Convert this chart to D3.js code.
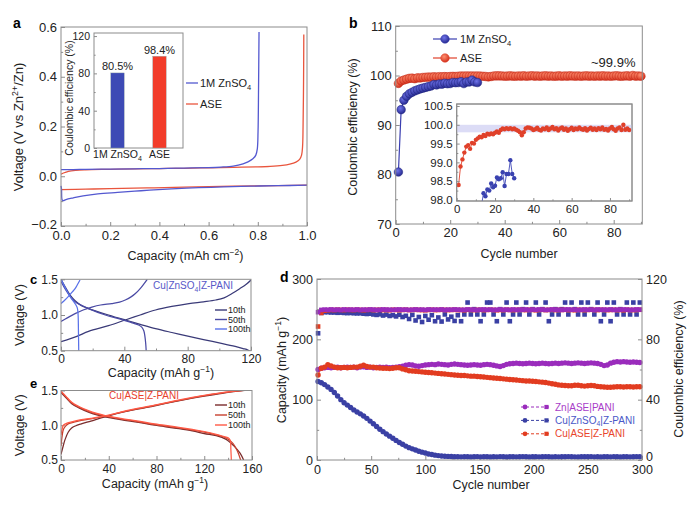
<!DOCTYPE html>
<html><head><meta charset="utf-8">
<script src="https://cdn.jsdelivr.net/npm/d3@7/dist/d3.min.js"></script>
<style>html,body{margin:0;padding:0;background:#fff;}svg{display:block;}</style>
</head><body>
<svg id="fig" width="694" height="506"></svg>
<script>
// ================= DATA =================
// Panel a: voltage profiles, [capacity (mAh cm-2), voltage (V)]
const aBlueStrip = [[0,0.027],[0.05,0.027],[0.1,0.028],[0.2,0.029],[0.3,0.03],[0.4,0.031],[0.5,0.033],[0.6,0.035],[0.65,0.037],[0.7,0.041],[0.74,0.05],[0.76,0.058],[0.78,0.07],[0.792,0.085],[0.798,0.11],[0.801,0.18],[0.803,0.35],[0.805,0.58]];
const aBluePlate = [[0,-0.039],[0.002,-0.05],[0.005,-0.096],[0.01,-0.098],[0.02,-0.094],[0.05,-0.087],[0.09,-0.079],[0.15,-0.071],[0.23,-0.065],[0.3,-0.06],[0.36,-0.056],[0.45,-0.051],[0.56,-0.046],[0.66,-0.043],[0.77,-0.04],[0.88,-0.038],[1.0,-0.036]];
const aRedStrip = [[0,0.008],[0.01,0.013],[0.03,0.02],[0.06,0.024],[0.1,0.026],[0.2,0.028],[0.3,0.03],[0.4,0.031],[0.5,0.032],[0.6,0.034],[0.7,0.036],[0.8,0.038],[0.85,0.04],[0.9,0.044],[0.93,0.049],[0.955,0.057],[0.97,0.068],[0.978,0.085],[0.982,0.12],[0.984,0.2],[0.986,0.38],[0.987,0.57]];
const aRedPlate = [[0,-0.054],[0.1,-0.052],[0.2,-0.05],[0.35,-0.047],[0.5,-0.044],[0.65,-0.041],[0.8,-0.039],[1.0,-0.036]];
const aInsetCats = ["1M ZnSO4", "ASE"];
const aInsetVals = [80.5, 98.4];
const aInsetLabels = ["80.5%", "98.4%"];

// Panel b: coulombic efficiency (%) per cycle, starting at cycle 1
const bBlueCE = [80.5,93.1,95.0,95.8,96.3,96.6,96.9,97.1,97.3,97.45,
 97.6,97.75,97.88,98.18,98.10,98.28,98.25,98.44,98.34,98.38,
 98.60,98.55,98.58,98.74,98.37,98.69,98.69,99.06,98.69,98.58];
const bRedCE = [98.40,98.89,99.08,99.26,99.42,99.46,99.36,99.52,99.50,99.60,
 99.64,99.68,99.67,99.73,99.70,99.76,99.74,99.77,99.75,99.79,
 99.82,99.79,99.86,99.90,99.88,99.91,99.89,99.91,99.88,99.90,
 99.87,99.84,99.80,99.72,99.80,99.90,99.93,99.92,99.90,99.86,
 99.88,99.92,99.87,99.85,99.90,99.88,99.93,99.86,99.90,99.94,
 99.88,99.91,99.85,99.90,99.93,99.87,99.90,99.84,99.88,99.92,
 99.86,99.90,99.88,99.93,99.89,99.87,99.91,99.85,99.89,99.92,
 99.87,99.90,99.86,99.91,99.88,99.93,99.87,99.89,99.85,99.90,
 99.94,99.88,99.84,99.90,99.93,99.86,100.00,99.87,99.90,99.86];

// Panel c: Cu|ZnSO4|Z-PANI profiles, [capacity (mAh g-1), voltage (V)]
const c10Charge = [[0,0.625],[10,0.7],[17.4,0.77],[30,0.85],[40.6,0.93],[50,1.0],[59.7,1.07],[70,1.12],[80.8,1.16],[90,1.185],[97.8,1.21],[103,1.24],[108,1.30],[113,1.37],[117,1.43],[120,1.49]];
const c10Dis = [[0,1.5],[3,1.38],[6,1.27],[8.9,1.2],[13,1.13],[17.4,1.09],[30,1.0],[40.6,0.93],[50,0.87],[59.7,0.81],[70,0.755],[80.8,0.70],[90,0.655],[102,0.60],[110,0.56],[115,0.53],[118,0.51],[119.5,0.49]];
const c50Charge = [[0,0.91],[4,0.96],[8.9,1.02],[14,1.07],[19.5,1.11],[25,1.14],[32,1.16],[37,1.18],[40.6,1.21],[44,1.25],[47,1.30],[50,1.37],[52.5,1.44],[54.5,1.5]];
const c50Dis = [[0,1.47],[3,1.35],[6.8,1.23],[10,1.17],[17.4,1.09],[28,1.0],[38,0.94],[45,0.89],[49,0.86],[51,0.83],[52.3,0.78],[53,0.7],[53.5,0.6],[53.8,0.5]];
const c100Charge = [[0,1.16],[2,1.2],[4.7,1.26],[7,1.32],[8.9,1.37],[10.5,1.43],[12,1.49]];
const c100Dis = [[0,1.5],[3,1.37],[6,1.25],[8.9,1.16],[10.3,1.1],[10.8,1.0],[11,0.8],[11.2,0.5]];
const cSeriesNames = ["10th","50th","100th"];

// Panel e: Cu|ASE|Z-PANI profiles
const e10Charge = [[0,0.58],[1.5,0.68],[3.3,0.79],[6,0.9],[8.9,0.96],[12,0.99],[17,1.02],[25,1.06],[36.8,1.12],[50,1.18],[65,1.235],[78.6,1.28],[95,1.34],[110,1.39],[120,1.42],[135,1.46],[154,1.5]];
const e50Charge = [[0,0.7],[1,0.85],[2,0.94],[4,0.99],[6,1.02],[10,1.04],[17,1.07],[25,1.09],[36.8,1.13],[50,1.185],[65,1.24],[78.6,1.285],[95,1.345],[110,1.395],[120,1.425],[135,1.465],[153,1.5]];
const e100Charge = [[0,0.86],[1,0.95],[2,1.0],[5,1.03],[9,1.05],[17,1.08],[25,1.1],[36.8,1.135],[50,1.19],[65,1.245],[78.6,1.29],[95,1.35],[110,1.4],[120,1.43],[135,1.47],[152,1.5]];
const e10Dis = [[0,1.47],[4,1.4],[9,1.31],[15,1.25],[23,1.19],[30,1.15],[37,1.12],[50,1.08],[65,1.04],[78.6,1.0],[95,0.96],[110,0.92],[120,0.88],[130,0.85],[138,0.8],[145,0.7],[150,0.6],[153,0.5]];
const e50Dis = [[0,1.48],[4,1.41],[9,1.32],[15,1.26],[23,1.2],[30,1.16],[37,1.13],[50,1.09],[65,1.05],[78.6,1.01],[95,0.97],[110,0.93],[120,0.9],[130,0.86],[138,0.82],[144,0.74],[148,0.62],[150.5,0.5]];
const e100Dis = [[0,1.49],[4,1.42],[9,1.33],[15,1.27],[23,1.21],[30,1.17],[37,1.14],[50,1.1],[65,1.06],[78.6,1.02],[95,0.98],[110,0.94],[120,0.91],[130,0.87],[136,0.84],[140,0.82],[141.8,0.78],[142.3,0.65],[142.7,0.5]];

// Panel d: cycling, every 3rd cycle (1, 4, 7, ... 298)
const dCycles = d3.range(1, 301, 3);
const dBlueCap = [130,128,125,121,117,112,106,100,95,91,
 87,83,79.5,76.5,73,69,64.5,60,55.5,51,
 47,43,39.5,36,32.5,29,26,23,20.5,18.5,
 16.5,14.5,13,11.5,10,9,8,7.3,6.7,6.3,
 6,5.7,5.5,5.4,5.2,5.5,5.3,5.1,5.4,5.6,
 5.2,5.3,5.5,5.1,5.4,5.2,5.6,5.3,5.1,5.4,
 5.5,5.2,5.3,5.6,5.4,5.1,5.3,5.5,5.2,5.4,
 5.6,5.3,5.1,5.4,5.2,5.5,5.3,5.6,5.4,5.2,
 5.1,5.3,5.5,5.4,5.6,5.2,5.3,5.1,5.5,5.4,
 5.2,5.6,5.3,5.1,5.4,5.5,5.2,5.3,5.6,5.4];
const dPurpleCap = [150,152,153,153.5,153,153.5,154,153,153.5,154,
 153.5,154,153,154,154.5,153.5,154,153,153.5,154,
 153.5,154,153,153.5,154,154.5,155.5,157,158,157.5,
 156,155.5,156.5,157.5,158,158.5,158,159,158.5,158,
 157.5,158.5,159,158.5,158,157.5,157,157.5,158,157.5,
 157,158,158.5,158,157,156,155,156.5,158.5,159.5,
 160,160.5,160,159.5,160,160.5,160,159.5,160,160.5,
 160,159.5,160,160.5,160,160.5,161,160.5,160,160.5,
 161,160.5,160,160.5,161,160.5,160,158.5,156.5,157.5,
 160.5,162,163,162.5,163,162.5,162,162.5,162,161.5];
const dRedCap = [141,152,154,158,156,154,153,153,153.5,153,
 153.5,154,154,155.5,157,155,154,154,153,152.5,
 152,152,151.5,152,153,153,151,149.5,148,147.5,
 147,146.5,146,145.5,145,144.5,144,143.5,143,142.5,
 142,141.5,141,140.5,140,140,139.5,139,139,138.5,
 138,137.5,137,136.5,136,135.5,135,134.5,134,133.5,
 133,132.5,132,131.5,131,131,130.5,130,129.5,129,
 128.5,127.5,126.5,125.5,124.5,124,123.5,123,123,124,
 124,123,122.5,123,123.5,123,122,121.5,121,120.5,
 120.5,121,121.5,121.5,121,121.5,121.5,121,121.5,121.5];
const dBlueCE = [84,97.5,98,98,97.8,97.8,97.6,97.7,97.5,97.4,
 97.5,97.3,97.2,97.3,97.0,96.8,97.0,96.5,96.2,96.6,
 95.8,96.4,95.5,96.0,95.2,96.3,94.8,95.6,93.5,96.2,
 92.5,94.8,91.5,95.5,93.0,96.0,92.0,94.5,91.8,96.5,
 93.2,95.0,92.2,96.0,92.0,96.5,104.4,96.5,100,96.5,
 92.0,96.5,104.4,104.4,96.5,92.0,100,96.5,104.4,92.0,
 96.5,104.4,96.5,100,104.4,96.5,100,104.4,96.5,100,
 104.4,92.0,96.5,100,96.5,100,104.4,96.5,104.4,100,
 96.5,104.4,96.5,104.4,100,96.5,104.4,92.0,96.5,104.4,
 92.0,104.4,96.5,100,96.5,104.4,96.5,104.4,96.5,104.4];
const dPurpleCE = [98.0,99.5,99.7,99.6,99.8,99.6,99.7,99.5,99.8,99.6,
 99.7,99.6,99.8,99.5,99.7,99.6,99.8,99.7,99.5,99.6,
 99.8,99.7,99.6,99.5,99.7,99.8,99.6,99.7,99.5,99.6,
 99.8,99.6,99.7,99.5,99.8,99.6,99.7,99.6,99.8,99.5,
 99.7,99.6,99.8,99.7,99.5,99.6,99.8,99.7,99.6,99.5,
 99.7,99.8,99.6,99.7,99.5,99.6,99.8,99.6,99.7,99.5,
 99.8,99.6,99.7,99.6,99.8,99.5,99.7,99.6,99.8,99.7,
 99.5,99.6,99.8,99.7,99.6,99.5,99.7,99.8,99.6,99.7,
 99.5,99.6,99.8,99.6,99.7,99.5,99.8,99.6,99.7,99.6,
 99.8,99.5,99.7,99.6,99.8,99.7,99.5,99.6,99.8,99.7];
const dRedCE = [88.5,97.5,99.0,99.3,99.5,99.4,99.6,99.5,99.4,99.6,
 99.5,99.4,99.6,99.5,99.3,99.5,99.6,99.4,99.5,99.6,
 99.4,99.5,99.3,99.6,99.5,99.4,99.5,99.6,99.4,99.5,
 99.6,99.5,99.4,99.3,99.5,99.6,99.4,99.5,99.6,99.5,
 99.4,99.5,99.6,99.4,99.5,99.3,99.6,99.5,99.4,99.5,
 99.6,99.4,99.5,99.6,99.5,99.3,99.5,99.4,99.6,99.5,
 99.4,99.5,99.6,99.5,99.4,99.6,99.5,99.3,99.5,99.6,
 99.4,99.5,99.6,99.4,99.5,99.5,99.6,99.4,99.5,99.3,
 99.6,99.5,99.4,99.5,99.6,99.5,99.4,99.6,99.5,99.4,
 99.5,99.6,99.4,99.5,99.3,99.6,99.5,99.4,99.5,99.6];
const dSeriesNames = ["Zn|ASE|PANI", "Cu|ZnSO4|Z-PANI", "Cu|ASE|Z-PANI"];

// ================= DRAWING =================
const FONT = '"Liberation Sans", Arial, Helvetica, sans-serif';
const AXC = '#8c8c8c', TXT = '#222';
const svg = d3.select('#fig').attr('font-family', FONT);

const defs = svg.append('defs');
function radial(id, c0, c1) {
  const g = defs.append('radialGradient').attr('id', id).attr('cx','40%').attr('cy','35%').attr('r','65%');
  g.append('stop').attr('offset','0%').attr('stop-color',c0);
  g.append('stop').attr('offset','100%').attr('stop-color',c1);
}
radial('gRed','#ff8f70','#d3301c');
radial('gBlue','#7074ea','#262a90');

function frame(g, x, y, fill) {
  const [x0,x1] = x.range(), [y0,y1] = y.range();
  return g.append('rect').attr('x',x0).attr('y',y1).attr('width',x1-x0).attr('height',y0-y1)
    .attr('fill',fill||'none').attr('stroke',AXC).attr('stroke-width',1);
}
function axis(g, kind, scale, pos, major, minor, fmt, fs, len, pad) {
  const gen = {b:d3.axisBottom, l:d3.axisLeft, r:d3.axisRight}[kind];
  const tr = kind==='b' ? `translate(0,${pos})` : `translate(${pos},0)`;
  const L = len||4;
  if (minor && minor.length) {
    const m = g.append('g').attr('transform',tr).call(gen(scale).tickValues(minor).tickSize(-L*0.55).tickFormat(''));
    m.select('.domain').remove(); m.selectAll('line').attr('stroke',AXC);
  }
  const M = g.append('g').attr('transform',tr).call(gen(scale).tickValues(major).tickSize(-L).tickPadding(pad||4).tickFormat(fmt));
  M.select('.domain').remove(); M.selectAll('line').attr('stroke',AXC);
  M.selectAll('text').attr('font-size',fs).attr('font-family',FONT).attr('fill',TXT);
  return M;
}
function rtext(g, x, y, parts, fs, o) {
  o = o || {};
  const t = g.append('text').attr('x',x).attr('y',y).attr('font-size',fs).attr('font-family',FONT)
    .attr('fill',o.fill||TXT).attr('text-anchor',o.anchor||'start');
  if (o.rotate) t.attr('transform',`rotate(${o.rotate},${x},${y})`);
  if (o.bold) t.attr('font-weight','bold');
  let off = 0;
  parts.forEach(p => {
    const [s,m] = Array.isArray(p) ? p : [p,null];
    const tgt = m==='sub' ? fs*0.25 : m==='sup' ? -fs*0.4 : 0;
    const ts = t.append('tspan').text(s);
    if (tgt-off !== 0) ts.attr('dy', tgt-off);
    if (m) ts.attr('font-size', fs*0.68);
    off = tgt;
  });
  return t;
}
const znso4 = ["1M ZnSO",["4","sub"]];
function richName(n) {
  if (n.indexOf('ZnSO4') >= 0) { const [a,b] = n.split('ZnSO4'); return [a+'ZnSO',["4","sub"],b]; }
  return [n];
}

// ---------- Panel a ----------
{
  const g = svg.append('g');
  const X = d3.scaleLinear().domain([0,1]).range([61,307]);
  const Y = d3.scaleLinear().domain([-0.2,0.6]).range([226,27]);
  const BL = '#5358d0', RD = '#e9553d';
  axis(g,'b',X,226,[0,.2,.4,.6,.8,1],[.1,.3,.5,.7,.9],d3.format('.1f'),13,4,5);
  const yl = axis(g,'l',Y,61,[-.2,0,.2,.4,.6],[-.1,.1,.3,.5],d3.format('.1f'),13);
  yl.selectAll('.tick text').filter(d=>d===-0.2).attr('dy','0.2em');
  const ln = d3.line().x(d=>X(d[0])).y(d=>Y(d[1])).curve(d3.curveCatmullRom.alpha(0.5));
  [[aRedPlate,RD],[aBluePlate,BL],[aRedStrip,RD],[aBlueStrip,BL]].forEach(([d,c]) =>
    g.append('path').datum(d).attr('d',ln).attr('fill','none').attr('stroke',c).attr('stroke-width',1.3));
  frame(g,X,Y);
  rtext(g,185.5,260,["Capacity (mAh cm",["−2","sup"],")"],12.5,{anchor:'middle'});
  rtext(g,23,127,["Voltage (V vs Zn",["2+","sup"],"/Zn)"],13,{anchor:'middle',rotate:-90});
  rtext(g,13,28,["a"],14,{bold:true,fill:'#000'});
  // legend
  [[BL,znso4,83],[RD,["ASE"],104]].forEach(([c,t,y]) => {
    g.append('line').attr('x1',186).attr('x2',198).attr('y1',y).attr('y2',y).attr('stroke',c).attr('stroke-width',1.3);
    rtext(g,200,y+4,t,11);
  });
  // inset
  const IX = d3.scaleBand().domain(aInsetCats).range([94,183]).paddingInner(0.68).paddingOuter(0.4);
  const IY = d3.scaleLinear().domain([0,123.3]).range([148,33]);
  g.append('rect').attr('x',94).attr('y',33).attr('width',89).attr('height',115).attr('fill','#fff').attr('stroke',AXC);
  const barC = ['#3d4ab5','#f23c2a'];
  g.selectAll('.bar').data(aInsetVals).join('rect').attr('class','bar')
    .attr('x',(d,i)=>IX(aInsetCats[i])).attr('width',IX.bandwidth())
    .attr('y',d=>IY(d)).attr('height',d=>IY(0)-IY(d)).attr('fill',(d,i)=>barC[i]).attr('stroke','#9aa').attr('stroke-width',0.4);
  aInsetVals.forEach((v,i)=>{
    rtext(g,IX(aInsetCats[i])+IX.bandwidth()/2,IY(v)-2.5,[aInsetLabels[i]],11,{anchor:'middle'});
    rtext(g,IX(aInsetCats[i])+IX.bandwidth()/2,158,richName(aInsetCats[i]),10.5,{anchor:'middle'});
  });
  axis(g,'l',IY,94,[0,40,80,120],[20,60,100],d3.format('d'),10.5,3);
  rtext(g,73,98,["Coulombic efficiency (%)"],10.5,{anchor:'middle',rotate:-90});
}

// ---------- Panel b ----------
{
  const g = svg.append('g');
  const X = d3.scaleLinear().domain([0,90.5]).range([395.7,642.3]);
  const Y = d3.scaleLinear().domain([70,110]).range([224,26]);
  axis(g,'b',X,224,[0,20,40,60,80],[10,30,50,70,90],d3.format('d'),13);
  axis(g,'l',Y,395.7,[70,80,90,100,110],[75,85,95,105],d3.format('d'),13);
  const ln = (arr, x0) => d3.line().x((d,i)=>X(i+x0)).y(d=>Y(d));
  g.append('path').datum(bRedCE).attr('d',ln(bRedCE,1)).attr('fill','none').attr('stroke','#e0402a').attr('stroke-width',1);
  g.selectAll('.rc').data(bRedCE).join('circle').attr('class','rc').attr('cx',(d,i)=>X(i+1)).attr('cy',d=>Y(d)).attr('r',4.3)
    .attr('fill','url(#gRed)').attr('stroke','#c22a18').attr('stroke-width',0.5);
  g.append('path').datum(bBlueCE).attr('d',ln(bBlueCE,1)).attr('fill','none').attr('stroke','#3a3eb0').attr('stroke-width',1.2);
  g.selectAll('.bc').data(bBlueCE).join('circle').attr('class','bc').attr('cx',(d,i)=>X(i+1)).attr('cy',d=>Y(d)).attr('r',4.3)
    .attr('fill','url(#gBlue)').attr('stroke','#22267e').attr('stroke-width',0.5);
  frame(g,X,Y);
  rtext(g,519,258,["Cycle number"],12.5,{anchor:'middle'});
  rtext(g,357,127,["Coulombic efficiency (%)"],12.5,{anchor:'middle',rotate:-90});
  rtext(g,349,28,["b"],14,{bold:true,fill:'#000'});
  rtext(g,591,67,["~99.9%"],13);
  // legend
  [['#3a3eb0','url(#gBlue)',znso4,39],['#e0402a','url(#gRed)',["ASE"],58]].forEach(([c,f,t,y]) => {
    g.append('line').attr('x1',433).attr('x2',457).attr('y1',y).attr('y2',y).attr('stroke',c).attr('stroke-width',1.2);
    g.append('circle').attr('cx',445).attr('cy',y).attr('r',4.3).attr('fill',f).attr('stroke',c).attr('stroke-width',0.5);
    rtext(g,460,y+4,t,11);
  });
  // inset
  const IX = d3.scaleLinear().domain([0,91.5]).range([456.7,632]);
  const IY = d3.scaleLinear().domain([97.973,100.553]).range([201,104]);
  frame(g,IX,IY,'#fff');
  defs.append('clipPath').attr('id','clipB').append('rect').attr('x',456.7).attr('y',104).attr('width',632-456.7).attr('height',97);
  const ig = g.append('g').attr('clip-path','url(#clipB)');
  ig.append('rect').attr('x',456.7).attr('width',632-456.7).attr('y',IY(100.0)).attr('height',IY(99.8)-IY(100.0)).attr('fill','#dcdcf6');
  const il = d3.line().x((d,i)=>IX(i+1)).y(d=>IY(d));
  ig.append('path').datum(bRedCE).attr('d',il).attr('fill','none').attr('stroke','#e0402a').attr('stroke-width',0.9);
  ig.selectAll('.irc').data(bRedCE).join('circle').attr('class','irc').attr('cx',(d,i)=>IX(i+1)).attr('cy',d=>IY(d)).attr('r',2.2).attr('fill','#e0402a');
  ig.append('path').datum(bBlueCE).attr('d',il).attr('fill','none').attr('stroke','#4048b8').attr('stroke-width',0.9);
  ig.selectAll('.ibc').data(bBlueCE).join('circle').attr('class','ibc').attr('cx',(d,i)=>IX(i+1)).attr('cy',d=>IY(d)).attr('r',2.2).attr('fill','#3a42b0');
  axis(g,'b',IX,201,[0,20,40,60,80],[10,30,50,70,90],d3.format('d'),11.5,3);
  axis(g,'l',IY,456.7,[98,98.5,99,99.5,100,100.5],[98.25,98.75,99.25,99.75,100.25],d3.format('.1f'),11.5,3);
  frame(g,IX,IY);
}

// ---------- Panels c and e ----------
function profilePanel(o) {
  const g = svg.append('g');
  const X = d3.scaleLinear().domain(o.xd).range(o.xr);
  const Y = d3.scaleLinear().domain([0.5,1.5]).range(o.yr);
  axis(g,'b',X,o.yr[0],o.xt,o.xm,d3.format('d'),12);
  const yl = axis(g,'l',Y,o.xr[0],[0.5,1.0,1.5],[0.75,1.25],d3.format('.1f'),12);
  yl.selectAll('.tick text').attr('dx', 1);
  const id = 'clip'+o.lab;
  defs.append('clipPath').attr('id',id).append('rect').attr('x',o.xr[0]).attr('y',o.yr[1]).attr('width',o.xr[1]-o.xr[0]).attr('height',o.yr[0]-o.yr[1]);
  const cg = g.append('g').attr('clip-path',`url(#${id})`);
  const ln = d3.line().x(d=>X(d[0])).y(d=>Y(d[1])).curve(d3.curveCatmullRom.alpha(0.5));
  o.curves.forEach(([arr,ci]) => cg.append('path').datum(arr).attr('d',ln).attr('fill','none').attr('stroke',o.colors[ci]).attr('stroke-width',1.25));
  frame(g,X,Y);
  rtext(g,o.tx[0],o.tx[1],o.title,10,{fill:o.tcol});
  cSeriesNames.forEach((n,i) => {
    const y = o.ly[i];
    g.append('line').attr('x1',215).attr('x2',227).attr('y1',y).attr('y2',y).attr('stroke',o.colors[i]).attr('stroke-width',1.4);
    rtext(g,228,y+3.2,[n],9);
  });
  rtext(g,o.xc,o.xb,["Capacity (mAh g",["−1","sup"],")"],12.5,{anchor:'middle'});
  rtext(g,24,(o.yr[0]+o.yr[1])/2,["Voltage (V)"],12.5,{anchor:'middle',rotate:-90});
  rtext(g,o.lp[0],o.lp[1],[o.lab],13,{bold:true,fill:'#000'});
}
const cCols = ['#3a3a78','#4a4aa4','#5a72e8'];
profilePanel({lab:'c', xd:[0,120], xr:[61,251], yr:[350.7,279.3], xt:[0,40,80,120], xm:[20,60,100],
  colors:cCols, curves:[[c10Charge,0],[c10Dis,0],[c50Charge,1],[c50Dis,1],[c100Charge,2],[c100Dis,2]],
  title:["Cu|ZnSO",["4","sub"],"|Z-PANI"], tcol:'#5858c8', tx:[153,289], ly:[310,319.5,329], xc:161, xb:377, lp:[30,284]});
const eCols = ['#7a2c2c','#c8402e','#ff5a46'];
profilePanel({lab:'e', xd:[0,160], xr:[61,252], yr:[460,390.5], xt:[0,40,80,120,160], xm:[20,60,100,140],
  colors:eCols, curves:[[e10Charge,0],[e10Dis,0],[e50Charge,1],[e50Dis,1],[e100Charge,2],[e100Dis,2]],
  title:["Cu|ASE|Z-PANI"], tcol:'#e8402c', tx:[109,398.5], ly:[405,415,425], xc:155, xb:488, lp:[30,388]});

// ---------- Panel d ----------
{
  const g = svg.append('g');
  const X = d3.scaleLinear().domain([0,300]).range([317,642]);
  const YL = d3.scaleLinear().domain([0,300]).range([460,279]);
  const YR = d3.scaleLinear().domain([0,120]).range([460,279]);
  axis(g,'b',X,460,[0,50,100,150,200,250,300],[25,75,125,175,225,275],d3.format('d'),12.5,4,5);
  axis(g,'l',YL,317,[0,100,200,300],[50,150,250],d3.format('d'),12.5);
  const yr = axis(g,'r',YR,642,[0,40,80,120],[20,60,100],d3.format('d'),12.5);
  yr.selectAll('.tick text').filter(d=>d===0).attr('dy','0.05em');
  const PU = '#9a2cbc', BU = '#3a40a4', RE = '#e23c20';
  const sq = (vals, col) => g.append('g').selectAll('rect').data(vals).join('rect')
    .attr('x',(d,i)=>X(dCycles[i])-2.3).attr('y',d=>YR(d)-2.3).attr('width',4.6).attr('height',4.6).attr('fill',col);
  const ci = (vals, col) => {
    g.append('path').datum(vals).attr('d',d3.line().x((d,i)=>X(dCycles[i])).y(d=>YL(d))).attr('fill','none').attr('stroke',col).attr('stroke-width',0.8);
    g.append('g').selectAll('circle').data(vals).join('circle')
      .attr('cx',(d,i)=>X(dCycles[i])).attr('cy',d=>YL(d)).attr('r',2.7).attr('fill',col);
  };
  sq(dBlueCE, BU); sq(dRedCE, RE); sq(dPurpleCE, PU);
  ci(dBlueCap, BU); ci(dPurpleCap, PU); ci(dRedCap, RE);
  frame(g,X,YL);
  rtext(g,491,489,["Cycle number"],12.5,{anchor:'middle'});
  rtext(g,286,370,["Capacity (mAh g",["−1","sup"],")"],12.5,{anchor:'middle',rotate:-90});
  rtext(g,683,369,["Coulombic efficiency (%)"],12.5,{anchor:'middle',rotate:-90});
  rtext(g,280,282,["d"],14,{bold:true,fill:'#000'});
  const lcols = [['#9a2cbc','#a83cc8'],['#3a40a4','#4a58c8'],['#e23c20','#e8442a']];
  dSeriesNames.forEach((n,i) => {
    const y = 407 + i*13.4;
    g.append('line').attr('x1',521).attr('x2',551).attr('y1',y).attr('y2',y).attr('stroke',lcols[i][0]).attr('stroke-width',1).attr('stroke-dasharray','3,2');
    g.append('circle').attr('cx',525).attr('cy',y).attr('r',2.4).attr('fill',lcols[i][0]);
    g.append('rect').attr('x',546.5-2.1).attr('y',y-2.1).attr('width',4.2).attr('height',4.2).attr('fill',lcols[i][0]);
    rtext(g,555,y+3.5,richName(n),10,{fill:lcols[i][1]});
  });
}
</script>
</body></html>
